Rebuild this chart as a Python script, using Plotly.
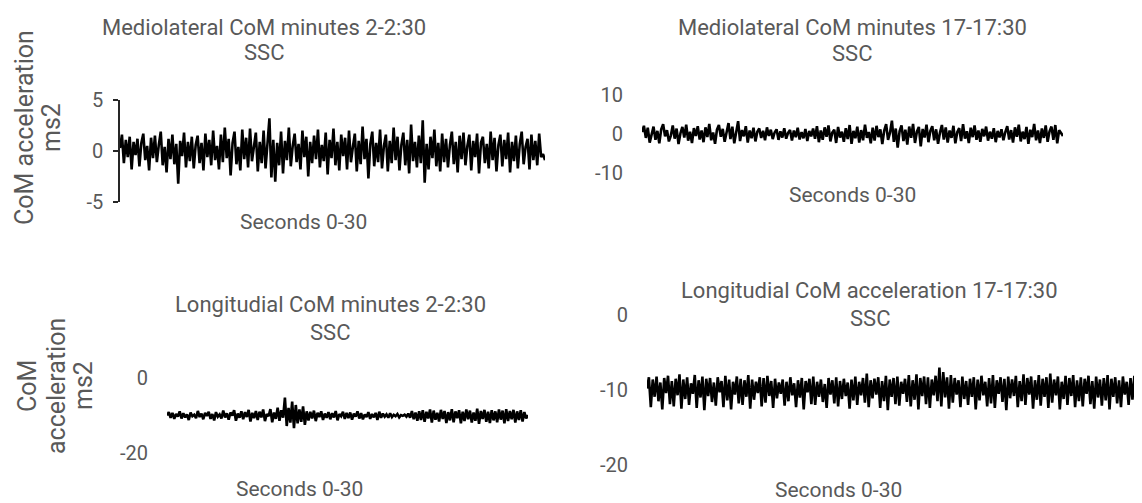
import plotly.graph_objects as go

# ---------------- data (CoM acceleration, m/s^2) ----------------
ml_2min = [
    0.3, 1.6, -1.2, 1.1, -0.6, 1.4, -1.8, 0.9, -0.4, 1.2,
    -1.5, 0.8, 1.7, -0.9, 0.5, -1.9, 1.3, -0.7, 1.5, -1.1,
    0.6, 1.9, -1.4, 0.4, -2.1, 1.2, -0.8, 1.6, -1.3, 0.7,
    -3.2, 1.0, -0.5, 1.8, -1.6, 0.9, -1.0, 1.4, -1.7, 0.6,
    1.5, -1.2, 0.8, -1.9, 1.7, -0.6, 1.1, -1.4, 2.0, -0.9,
    0.5, -1.8, 1.6, -1.1, 2.3, -0.7, 1.2, -2.4, 0.8, 1.9,
    -1.3, 0.4, -1.9, 2.1, -0.8, 1.3, -1.6, 2.2, -1.0, 0.7,
    1.8, -2.0, 0.9, -1.2, 2.0, -1.7, 0.6, 3.2, -2.6, 1.1,
    -3.0, 0.8, -1.4, 1.9, -2.2, 1.0, -0.9, 2.3, -1.5, 0.5,
    1.7, -1.1, 0.7, -1.8, 2.0, -0.6, 1.4, -2.5, 0.9, -1.2,
    1.5, -0.8, 2.1, -1.6, 0.6, -1.0, 1.8, -2.3, 1.1, -0.7,
    2.2, -1.4, 0.9, -1.9, 1.6, -0.5, 1.3, -1.8, 2.0, -1.1,
    0.4, 1.7, -2.0, 1.0, -1.3, 2.4, -0.8, 1.2, -2.7, 0.7,
    1.9, -1.5, 0.8, -1.1, 2.1, -1.7, 0.5, 1.6, -2.0, 1.0,
    -1.2, 2.3, -0.9, 1.4, -1.9, 0.6, 1.8, -1.4, 1.1, -2.2,
    2.6, -1.0, 0.9, -1.6, 1.5, -1.2, 3.0, -3.1, 0.7, -1.8,
    1.4, -0.7, 2.1, -1.5, 0.8, -2.0, 1.7, -1.1, 1.2, -1.6,
    0.6, 1.9, -1.3, 0.9, -2.1, 1.5, -0.8, 1.8, -1.4, 0.5,
    1.6, -1.9, 1.0, -0.6, 1.7, -2.2, 0.8, 1.4, -1.2, 0.7,
    -1.7, 1.9, -0.9, 1.3, -2.0, 0.6, 1.6, -1.5, 1.1, -0.8,
    1.8, -2.1, 0.9, -1.0, 1.5, -1.7, 0.7, 1.9, -1.3, 0.4,
    1.2, -1.8, 1.6, -0.9, 1.0, -1.4, 1.7, -0.6, -0.3, -0.9,
]

ml_17min = [
    0.5, 2.1, -1.0, 1.6, -2.2, 0.3, 1.9, -1.5, 0.8, -2.4,
    1.2, 2.5, -0.6, 1.0, -1.9, -0.4, 2.2, -1.2, 1.4, -2.6,
    0.2, 1.8, -0.9, 2.4, -1.7, 0.6, -2.3, 1.5, -0.5, 2.0,
    -1.4, 0.9, -2.1, 1.7, -0.8, 2.6, -1.6, 0.4, -2.5, 1.1,
    2.3, -0.7, 1.3, -2.0, 0.5, 2.8, -1.3, 1.9, -2.4, 0.7,
    3.3, -1.8, 1.0, -0.6, 2.0, -2.2, 0.9, -1.1, 1.6, -1.9,
    0.6, 1.4, -1.0, 0.8, -1.6, 1.7, -0.5, 1.1, -1.3, 0.4,
    1.2, -1.5, 0.7, -0.9, 1.5, -1.2, 0.3, 1.0, -1.7, 0.9,
    -0.8, 1.6, -1.4, 0.5, -1.1, 1.3, -1.8, 0.8, -0.6, 1.4,
    -1.2, 2.0, -2.1, 0.9, -1.5, 1.7, -0.7, 2.2, -1.9, 0.4,
    1.1, -2.3, 1.8, -0.9, 0.6, -2.0, 1.5, -1.3, 2.3, -2.5,
    0.8, -1.1, 1.9, -2.2, 1.0, -1.6, 2.4, -1.0, 0.5, -2.4,
    1.6, -1.7, 2.1, -0.8, 1.2, -2.6, 0.9, 2.5, -1.5, 0.3,
    3.4, -2.0, 1.4, -3.5, 0.7, 2.2, -1.8, 1.1, -2.7, 1.9,
    -1.0, 2.6, -2.3, 0.6, 1.8, -3.2, 1.3, -0.9, 2.4, -2.1,
    0.8, 2.0, -1.6, 1.2, -2.5, 0.4, 2.3, -1.4, 1.7, -2.2,
    0.9, -1.0, 2.1, -2.4, 0.5, 1.5, -1.8, 2.5, -1.2, 0.7,
    -2.3, 1.6, -0.8, 2.2, -1.5, 0.9, -2.0, 1.3, -0.6, 1.9,
    -1.7, 0.6, -1.2, 1.5, -2.1, 0.8, -0.9, 1.2, -1.6, 0.5,
    2.0, -1.4, 1.0, -2.2, 1.7, -0.7, 2.4, -1.9, 0.6, -1.3,
    1.8, -2.5, 1.1, -0.8, 2.6, -1.6, 0.9, -2.3, 1.4, -1.0,
    2.2, -2.0, 0.7, 1.9, -1.5, 2.3, -2.4, 1.0, 0.2, -0.5,
]

long_2min = [
    -10.0, -9.1, -10.6, -9.3, -10.9, -9.6, -10.3, -8.9, -10.8, -9.4,
    -10.5, -9.7, -11.2, -9.2, -10.2, -9.8, -10.7, -8.8, -10.4, -9.5,
    -11.0, -9.3, -10.1, -9.0, -10.9, -9.6, -11.3, -9.1, -10.3, -9.7,
    -10.8, -8.7, -10.5, -9.4, -11.1, -9.2, -10.0, -8.6, -11.4, -9.5,
    -10.6, -8.9, -11.0, -9.1, -10.4, -8.5, -11.6, -9.3, -10.7, -8.8,
    -11.2, -9.0, -10.5, -8.4, -11.5, -9.6, -10.2, -8.3, -11.8, -9.2,
    -10.9, -7.9, -11.4, -8.6, -10.6, -5.2, -12.8, -8.0, -11.9, -6.3,
    -13.4, -7.2, -12.1, -8.4, -11.7, -7.6, -12.5, -8.9, -11.3, -9.0,
    -10.8, -8.7, -11.5, -9.3, -10.4, -8.9, -11.2, -9.5, -10.6, -9.1,
    -11.0, -9.4, -10.5, -8.8, -11.3, -9.6, -10.2, -9.0, -10.9, -9.3,
    -10.7, -9.2, -11.1, -9.5, -10.3, -8.9, -10.8, -9.4, -11.0, -9.7,
    -10.4, -9.1, -10.9, -9.6, -10.5, -9.3, -11.2, -9.0, -10.6, -9.5,
    -10.3, -9.7, -10.6, -9.4, -10.4, -9.8, -10.2, -9.6, -10.5, -9.9,
    -10.1, -9.8, -10.3, -9.5, -10.6, -8.8, -11.0, -9.2, -11.4, -8.9,
    -11.2, -8.6, -11.7, -9.0, -10.8, -8.4, -11.9, -8.7, -11.1, -9.3,
    -11.6, -8.5, -10.9, -8.8, -12.0, -9.1, -11.3, -8.3, -11.8, -8.9,
    -10.7, -8.6, -12.1, -9.0, -11.5, -8.4, -11.0, -8.7, -11.9, -9.2,
    -11.4, -8.2, -12.2, -8.8, -10.9, -8.5, -11.7, -9.0, -12.0, -8.6,
    -11.3, -8.9, -11.8, -8.4, -11.1, -8.7, -12.1, -8.3, -11.5, -8.8,
    -11.0, -8.5, -11.9, -8.9, -11.2, -8.6, -11.6, -9.1, -10.8, -9.9,
]

long_17min = [
    -9.8, -8.3, -12.3, -8.6, -10.9, -8.2, -11.5, -9.0, -12.6, -8.4,
    -10.4, -8.1, -11.9, -8.8, -12.2, -8.5, -10.7, -7.9, -12.5, -8.6,
    -11.2, -8.3, -12.0, -9.1, -10.5, -8.0, -12.4, -8.7, -11.0, -8.2,
    -12.7, -8.5, -10.8, -8.4, -11.6, -9.0, -12.1, -8.3, -10.3, -8.8,
    -12.3, -8.1, -11.4, -8.6, -12.6, -8.9, -10.6, -8.2, -11.8, -8.5,
    -12.0, -8.7, -10.9, -8.0, -12.5, -8.6, -11.3, -8.9, -10.4, -8.3,
    -12.2, -8.4, -11.7, -8.1, -10.8, -8.8, -12.4, -8.5, -11.1, -9.0,
    -10.5, -8.6, -12.1, -8.9, -11.5, -8.3, -10.7, -9.1, -12.3, -8.7,
    -11.0, -8.4, -12.6, -8.8, -10.3, -8.5, -11.9, -8.2, -12.0, -8.9,
    -10.9, -8.6, -11.6, -9.2, -12.4, -8.4, -10.6, -8.7, -11.8, -8.3,
    -12.2, -8.8, -11.2, -8.5, -10.8, -9.0, -12.5, -8.6, -11.4, -8.2,
    -12.0, -8.9, -10.7, -8.4, -11.7, -7.8, -12.3, -8.7, -11.1, -8.5,
    -10.6, -8.3, -12.4, -8.8, -11.5, -8.1, -12.7, -8.6, -10.9, -8.4,
    -11.9, -8.2, -12.1, -8.9, -10.5, -8.5, -11.6, -8.0, -12.2, -8.7,
    -11.3, -7.9, -12.6, -8.4, -10.8, -8.2, -11.9, -8.3, -12.4, -8.6,
    -10.7, -8.1, -11.5, -7.0, -12.2, -7.6, -11.0, -8.3, -12.5, -8.0,
    -11.7, -8.4, -10.6, -8.7, -12.3, -8.2, -11.2, -8.8, -12.0, -8.5,
    -10.9, -8.3, -12.6, -8.6, -11.4, -8.1, -10.7, -8.9, -12.2, -8.4,
    -11.8, -8.0, -12.4, -8.7, -10.5, -8.3, -11.6, -8.5, -12.7, -8.2,
    -11.1, -8.6, -10.8, -8.1, -12.3, -8.8, -11.5, -7.9, -12.0, -8.4,
    -10.6, -8.2, -12.5, -8.7, -11.3, -8.0, -12.1, -8.5, -10.9, -8.3,
    -12.4, -7.8, -11.7, -8.6, -10.7, -8.2, -12.6, -8.9, -11.2, -8.1,
    -12.0, -8.4, -10.8, -8.0, -12.3, -8.7, -11.5, -8.3, -12.2, -8.5,
    -10.5, -8.1, -11.9, -8.8, -12.5, -8.2, -11.0, -8.6, -12.1, -8.4,
    -11.4, -8.0, -12.6, -8.5, -10.9, -8.3, -11.8, -8.7, -12.3, -8.2,
    -10.6, -8.9, -12.0, -8.4, -11.3, -8.1, -12.4, -8.6, -10.8, -9.5,
]

titles = [
    "Mediolateral CoM minutes 2-2:30",
    "Mediolateral CoM minutes 17-17:30",
    "Longitudial CoM minutes 2-2:30",
    "Longitudial CoM acceleration 17-17:30",
]
subtitle = "SSC"
x_label = "Seconds 0-30"
y_ticks_ml_2 = [-5, 0, 5]
y_ticks_ml_17 = [-10, 0, 10]
y_ticks_long_2 = [-20, 0]
y_ticks_long_17 = [-20, -10, 0]


def seconds(n):
    return [30.0 * i / (n - 1) for i in range(n)]


# the page body has an 8px margin; lay out in window pixels and convert
OFF = 8
W, H = 1142 - OFF, 503 - OFF
GRAY = "#595959"
FONT = "Roboto"


def px(x):
    return (x - OFF) / W


def py(y):
    return 1 - (y - OFF) / H


fig = go.Figure()
series = [ml_2min, ml_17min, long_2min, long_17min]
for i, s in enumerate(series):
    fig.add_trace(go.Scatter(
        x=seconds(len(s)), y=s, mode="lines",
        line=dict(color="#000000", width=2.6),
        xaxis="x" if i == 0 else f"x{i+1}",
        yaxis="y" if i == 0 else f"y{i+1}",
        showlegend=False, hoverinfo="skip",
    ))

xdoms = [(120, 545), (642, 1063), (167, 528), (647, 1142)]
ydoms = [(100, 202), (95, 173), (378, 453), (315, 465)]
yranges = [[-5, 5], [-10, 10], [-20, 0], [-20, 0]]
yticks = [y_ticks_ml_2, y_ticks_ml_17, y_ticks_long_2, y_ticks_long_17]

for i in range(4):
    xs = "xaxis" if i == 0 else f"xaxis{i+1}"
    ys = "yaxis" if i == 0 else f"yaxis{i+1}"
    anchor_x = "y" if i == 0 else f"y{i+1}"
    anchor_y = "x" if i == 0 else f"x{i+1}"
    x0, x1 = xdoms[i]
    ytop, ybot = ydoms[i]
    fig.layout[xs] = dict(
        domain=[px(x0), min(1.0, px(x1))], range=[0, 30], anchor=anchor_x,
        visible=False, fixedrange=True, automargin=False,
    )
    yax = dict(
        domain=[py(ybot), py(ytop)], range=yranges[i], anchor=anchor_y,
        tickmode="array", tickvals=yticks[i],
        ticktext=[str(v) for v in yticks[i]],
        showgrid=False, zeroline=False, automargin=False,
        tickfont=dict(family=FONT, size=20, color=GRAY),
        fixedrange=True,
    )
    if i == 0:
        yax.update(showline=True, linecolor="#262626", linewidth=1.5,
                   ticks="outside", ticklen=5, tickwidth=1.5, tickcolor="#262626",
                   ticklabelstandoff=6)
    else:
        yax.update(showline=False, ticks="", ticklabelstandoff=18)
    fig.layout[ys] = yax

ann = []


def text(t, x, y, size, angle=0):
    ann.append(dict(text=t, x=px(x), y=py(y), xref="paper", yref="paper",
                    xanchor="center", yanchor="middle", showarrow=False,
                    textangle=angle,
                    font=dict(family=FONT, size=size, color=GRAY)))


# panel titles
text(titles[0], 264, 27, 22)
text(subtitle, 264, 52, 22)
text(titles[1], 852, 27, 22)
text(subtitle, 852, 53, 22)
text(titles[2], 330, 304, 22)
text(subtitle, 330, 332, 22)
text(titles[3], 869, 290, 22)
text(subtitle, 870, 318, 22)
# x labels
text(x_label, 303, 222, 21)
text(x_label, 852, 195, 21)
text(x_label, 299, 489, 21)
text(x_label, 838, 490, 21)
# y titles
text("CoM acceleration", 24, 128, 25, -90)
text("ms2", 51, 128, 25, -90)
text("CoM", 27, 386, 25, -90)
text("acceleration", 56, 386, 25, -90)
text("ms2", 83, 386, 25, -90)

fig.update_layout(
    width=W, height=H, margin=dict(l=0, r=0, t=0, b=0, autoexpand=False),
    paper_bgcolor="white", plot_bgcolor="white",
    annotations=ann, showlegend=False,
)

fig.write_html("out.html")
